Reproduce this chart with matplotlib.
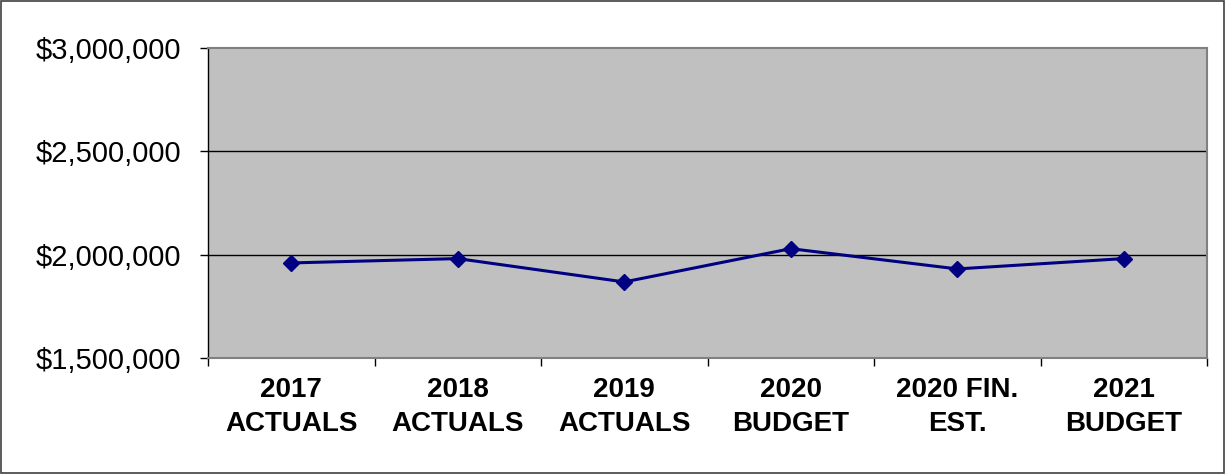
import matplotlib
matplotlib.use("Agg")
import matplotlib.pyplot as plt
from matplotlib.ticker import FuncFormatter, FixedLocator
from matplotlib.patches import Rectangle

categories = ["2017\nACTUALS", "2018\nACTUALS", "2019\nACTUALS",
              "2020\nBUDGET", "2020 FIN.\nEST.", "2021\nBUDGET"]
values = [1960000, 1981000, 1868000, 2029000, 1931000, 1981000]
y_ticks = [1500000, 2000000, 2500000, 3000000]

plt.rcParams['font.family'] = ['Liberation Sans', 'DejaVu Sans']

fig = plt.figure(figsize=(12.26, 4.74), dpi=100)
ax = fig.add_axes([208 / 1226, 116 / 474, 999 / 1226, 310 / 474])
ax.set_facecolor("#C0C0C0")

x = list(range(len(categories)))
ax.plot(x, values, color="#000080", lw=2.2, marker="D", markersize=8,
        markerfacecolor="#000080", markeredgecolor="#000080", zorder=3)

ax.set_ylim(1500000, 3000000)
ax.set_xlim(-0.5, len(categories) - 0.5)
ax.set_yticks(y_ticks)
ax.yaxis.set_major_formatter(FuncFormatter(lambda v, p: "${:,.0f}".format(v)))
ax.tick_params(axis="y", labelsize=21, length=6, pad=13, width=1, color="black")
for yv in y_ticks[1:3]:
    ax.axhline(yv, color="black", lw=1, zorder=1)

ax.set_xticks(x)
ax.set_xticklabels(categories, fontsize=20, fontweight="bold", linespacing=1.38)
ax.tick_params(axis="x", which="major", length=0, pad=14)
ax.xaxis.set_minor_locator(FixedLocator([i - 0.5 for i in range(len(categories) + 1)]))
ax.tick_params(axis="x", which="minor", length=6, width=1, color="black")

for s in ["top", "right", "bottom"]:
    ax.spines[s].set_color("#808080")
    ax.spines[s].set_linewidth(1.5)
ax.spines["left"].set_color("black")
ax.spines["left"].set_linewidth(1)

fig.patches.append(Rectangle((0.001, 0.002), 0.997, 0.996, transform=fig.transFigure,
                             fill=False, edgecolor="#404040", lw=1.2))

fig.savefig("out.png", dpi=100)
